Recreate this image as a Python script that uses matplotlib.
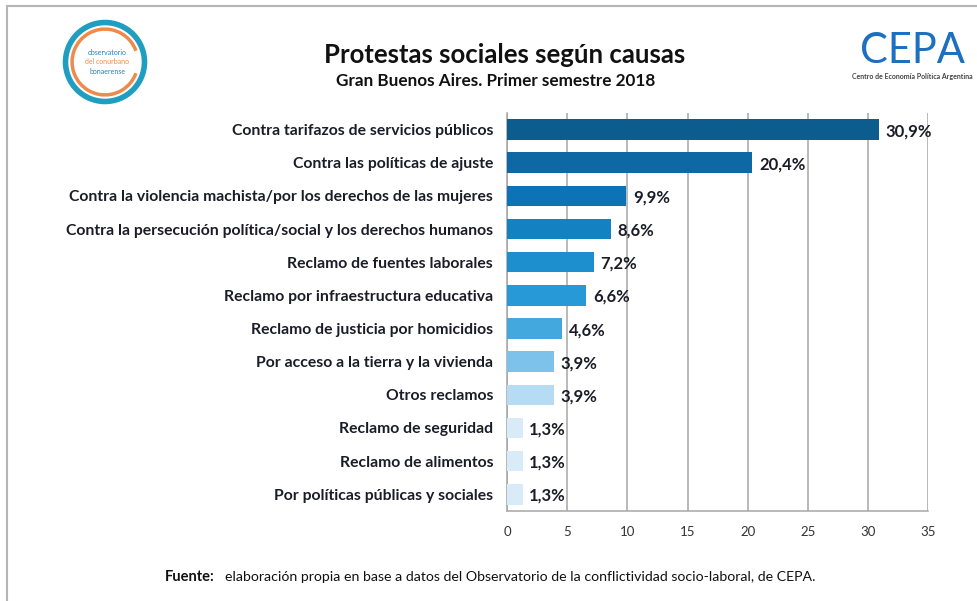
import matplotlib.pyplot as plt
from matplotlib.patches import Circle, Rectangle, Arc

# data
causas = [
    'Contra tarifazos de servicios públicos',
    'Contra las políticas de ajuste',
    'Contra la violencia machista/por los derechos de las mujeres',
    'Contra la persecución política/social y los derechos humanos',
    'Reclamo de fuentes laborales',
    'Reclamo por infraestructura educativa',
    'Reclamo de justicia por homicidios',
    'Por acceso a la tierra y la vivienda',
    'Otros reclamos',
    'Reclamo de seguridad',
    'Reclamo de alimentos',
    'Por políticas públicas y sociales',
]
porcentajes = [30.9, 20.4, 9.9, 8.6, 7.2, 6.6, 4.6, 3.9, 3.9, 1.3, 1.3, 1.3]
colores = ['#0d5c8e', '#0d68a4', '#0b73b6', '#1481c3', '#1d8fcf', '#2799d6',
           '#42a8dd', '#7cc2ea', '#b5dcf3', '#d9ebf7', '#d9ebf7', '#d9ebf7']
xticks = [0, 5, 10, 15, 20, 25, 30, 35]

font = ['Lato', 'DejaVu Sans']
txt = '#1c1c28'

fig = plt.figure(figsize=(9.77, 6.01), dpi=100)
ax = fig.add_axes([0.519, 0.150, 0.431, 0.662])

y = range(len(causas))
ax.barh(y, porcentajes, height=0.62, color=colores, zorder=3)
ax.set_ylim(len(causas) - 0.5, -0.5)
ax.set_xlim(0, 35)
ax.set_xticks(xticks)
ax.set_xticklabels([str(t) for t in xticks], family=font, fontsize=9.5, color='#333333')
ax.set_yticks(list(y))
ax.set_yticklabels(causas, family=font, fontsize=11.3, fontweight='bold', color=txt)
ax.tick_params(length=0, axis='y', pad=10)
ax.tick_params(length=0, axis='x', pad=11)
ax.grid(axis='x', color='#a6a6a6', linewidth=1.1, zorder=0)
for s in ['top', 'right']:
    ax.spines[s].set_visible(False)
for s in ['left', 'bottom']:
    ax.spines[s].set_color('#a6a6a6')
    ax.spines[s].set_linewidth(1.1)

for i, v in enumerate(porcentajes):
    ax.text(v + 0.55, i + 0.05, f'{v:.1f}%'.replace('.', ','), va='center', ha='left',
            family=font, fontsize=12, fontweight='bold', color=txt, zorder=4)

# titles
fig.text(0.516, 0.908, 'Protestas sociales según causas', ha='center', va='center',
         family=font, fontsize=18.5, fontweight='bold', color='#111111')
fig.text(0.507, 0.866, 'Gran Buenos Aires. Primer semestre 2018', ha='center', va='center',
         family=font, fontsize=12.3, fontweight='bold', color='#111111')

# source
fig.text(0.169, 0.040, 'Fuente:', ha='left', va='center', family=font, fontsize=10.5,
         fontweight='bold', color='#111111')
fig.text(0.230, 0.040, 'elaboración propia en base a datos del Observatorio de la conflictividad socio-laboral, de CEPA.',
         ha='left', va='center', family=font, fontsize=10.2, color='#111111')

# frame
fig.patches.append(Rectangle((0.007, -0.02), 1.1, 1.01, transform=fig.transFigure,
                             fill=False, edgecolor='#b5b5b5', linewidth=1.5))

# left logo
lx, ly = 105 / 977, 1 - 62 / 601
logo_ax = fig.add_axes([lx - 0.045, ly - 0.073, 0.09, 0.146])
logo_ax.set_xlim(-1, 1)
logo_ax.set_ylim(-1, 1)
logo_ax.set_aspect('equal')
logo_ax.axis('off')
logo_ax.add_patch(Circle((0, 0), 0.9, fill=False, edgecolor='#1f9ec0', linewidth=4))
logo_ax.add_patch(Arc((0, 0), 1.5, 1.5, theta1=20, theta2=340, edgecolor='#f08a4b', linewidth=2.5))
logo_ax.text(0.05, 0.22, 'observatorio', ha='center', va='center', fontsize=5, color='#2a7fb8', family=font)
logo_ax.text(0.05, 0.0, 'del conurbano', ha='center', va='center', fontsize=5, color='#f08a4b', family=font)
logo_ax.text(0.05, -0.22, 'bonaerense', ha='center', va='center', fontsize=5, color='#2a7fb8', family=font)

# right logo
fig.text(0.934, 0.915, 'CEPA', ha='center', va='center', family=font, fontsize=30,
         color='#1d6fc0')
fig.text(0.934, 0.872, 'Centro de Economía Política Argentina', ha='center', va='center',
         family=font, fontsize=5, fontweight='bold', color='#444444')

fig.savefig('out.png', dpi=100)
